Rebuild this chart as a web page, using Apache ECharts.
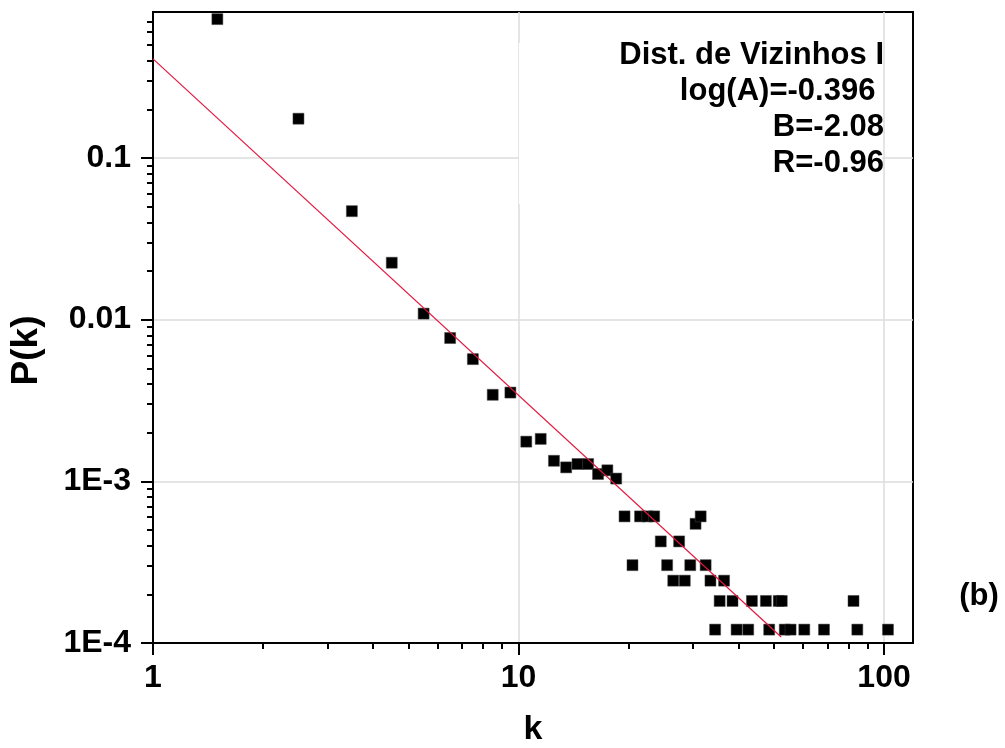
<!DOCTYPE html>
<html lang="pt">
<head>
  <meta charset="UTF-8">
  <title>Dist. de Vizinhos I</title>
  <style>
    html, body { margin: 0; padding: 0; background: #fff; }
    #chart { width: 1005px; height: 748px; }
  </style>
</head>
<body>
  <div id="chart"></div>
  <script src="https://cdn.jsdelivr.net/npm/echarts@6/dist/echarts.min.js"></script>
  <script>
    // pontos: grau k e P(k)
    var kValues = [1.5, 2.5, 3.5, 4.5, 5.5, 6.5, 7.5, 8.5, 9.5, 10.5,
      11.5, 12.5, 13.5, 14.5, 15.5, 16.5, 17.5, 18.5, 19.5, 20.5,
      21.5, 22.5, 23.5, 24.5, 25.5, 26.5, 27.5, 28.5, 29.5, 30.5,
      31.5, 32.5, 33.5, 34.5, 35.5, 36.5, 38.5, 39.5, 42.5, 43.5,
      47.5, 48.5, 51.5, 52.5, 53.5, 55.5, 60.5, 68.5, 82.5, 84.5, 102.5]
    var pValues = [0.723, 0.175, 0.0469, 0.0225, 0.0109, 0.0077, 0.0057, 0.00343, 0.00354, 0.00176,
      0.00183, 0.00134, 0.00122, 0.00128, 0.00128, 0.00111, 0.00117, 0.00104, 6.07e-4, 3.03e-4,
      6.07e-4, 6.07e-4, 6.07e-4, 4.25e-4, 3.03e-4, 2.43e-4, 4.25e-4, 2.43e-4, 3.03e-4, 5.46e-4,
      6.07e-4, 3.03e-4, 2.43e-4, 1.21e-4, 1.82e-4, 2.43e-4, 1.82e-4, 1.21e-4, 1.21e-4, 1.82e-4,
      1.82e-4, 1.21e-4, 1.82e-4, 1.82e-4, 1.21e-4, 1.21e-4, 1.21e-4, 1.21e-4, 1.82e-4, 1.21e-4, 1.21e-4]

    // reta do ajuste (extremos)
    var fitK = [1, 52.3]
    var fitP = [0.41, 1.09e-4]

    var xTickValues = [1, 10, 100]
    var xTickLabels = ['1', '10', '100']
    var yTickValues = [1e-4, 1e-3, 0.01, 0.1]
    var yTickLabels = ['1E-4', '1E-3', '0.01', '0.1']

    var fitText = ['Dist. de Vizinhos I', 'log(A)=-0.396 ', 'B=-2.08', 'R=-0.96']

    var font = '"Liberation Sans", Arial, sans-serif'

    function tickLabel(values, labels) {
      return function (v) {
        for (var i = 0; i < values.length; i++) {
          if (Math.abs(Math.log10(v) - Math.log10(values[i])) < 1e-6) return labels[i]
        }
        return ''
      }
    }

    function pairs(xs, ys) {
      var res = []
      for (var i = 0; i < xs.length; i++) res.push([xs[i], ys[i]])
      return res
    }

    var myChart = echarts.init(document.getElementById('chart'))

    var axisCommon = {
      type: 'log',
      logBase: 10,
      axisLine: { lineStyle: { color: '#000', width: 2 } },
      minorTick: { show: true, splitNumber: 9, length: 6, lineStyle: { color: '#000', width: 2 } },
      splitLine: { show: true, lineStyle: { color: '#dcdcdc', width: 1.5 } },
      nameTextStyle: { color: '#000', fontSize: 34, fontWeight: 'bold', fontFamily: font }
    }

    var option = {
      animation: false,
      backgroundColor: '#fff',
      grid: {
        left: 153, right: 92, top: 12, bottom: 105,
        outerBoundsMode: 'none',
        show: true, borderColor: '#000', borderWidth: 2
      },
      xAxis: Object.assign({}, axisCommon, {
        min: 1,
        max: 120,
        name: 'k',
        nameLocation: 'middle',
        nameGap: 70,
        axisTick: { show: true, length: 12, customValues: xTickValues, lineStyle: { color: '#000', width: 2 } },
        axisLabel: {
          color: '#000', fontSize: 32, fontWeight: 'bold', fontFamily: font, margin: 19,
          formatter: tickLabel(xTickValues, xTickLabels)
        }
      }),
      yAxis: Object.assign({}, axisCommon, {
        min: 1e-4,
        max: 0.8,
        name: 'P(k)',
        nameLocation: 'middle',
        nameGap: 108,
        nameTextStyle: Object.assign({}, axisCommon.nameTextStyle, { fontSize: 37, padding: [0, 46, 0, 0] }),
        axisTick: { show: true, length: 12, customValues: yTickValues, lineStyle: { color: '#000', width: 2 } },
        axisLabel: {
          color: '#000', fontSize: 32, fontWeight: 'bold', fontFamily: font, margin: 22,
          formatter: tickLabel(yTickValues, yTickLabels)
        }
      }),
      graphic: [
        // caixa branca atras do texto do ajuste (esconde a grade)
        {
          type: 'rect', z: 1, silent: true,
          shape: { x: 519, y: 43, width: 363, height: 161 },
          style: { fill: '#fff' }
        },
        {
          type: 'text', z: 5, x: 884, y: 37,
          style: {
            text: fitText.join('\n'),
            textAlign: 'right', textVerticalAlign: 'top',
            fontSize: 31, fontWeight: 'bold', fontFamily: font,
            lineHeight: 36, fill: '#000'
          }
        },
        {
          type: 'text', z: 5, x: 979, y: 596,
          style: {
            text: '(b)', textAlign: 'center', textVerticalAlign: 'middle',
            fontSize: 31, fontWeight: 'bold', fontFamily: font, fill: '#000'
          }
        }
      ],
      series: [
        {
          type: 'scatter',
          symbol: 'rect',
          symbolSize: 11,
          itemStyle: { color: '#000', borderColor: '#444', borderWidth: 0.5, opacity: 1 },
          data: pairs(kValues, pValues),
          z: 2
        },
        {
          type: 'line',
          data: pairs(fitK, fitP),
          symbol: 'none',
          lineStyle: { color: '#e3173f', width: 1.2 },
          z: 3
        }
      ]
    }

    myChart.setOption(option)
  </script>
</body>
</html>
